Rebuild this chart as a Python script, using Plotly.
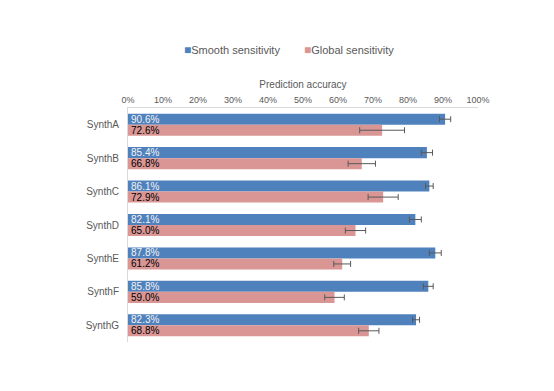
import plotly.graph_objects as go

datasets = ["SynthA", "SynthB", "SynthC", "SynthD", "SynthE", "SynthF", "SynthG"]
smooth_acc = [90.6, 85.4, 86.1, 82.1, 87.8, 85.8, 82.3]
smooth_err = [1.6, 1.6, 1.1, 1.7, 1.7, 1.4, 1.0]
global_acc = [72.6, 66.8, 72.9, 65.0, 61.2, 59.0, 68.8]
global_err = [6.4, 3.9, 4.3, 2.9, 2.4, 2.8, 2.9]
tick_vals = [0, 10, 20, 30, 40, 50, 60, 70, 80, 90, 100]

FONT = "Liberation Sans, Arial, sans-serif"
BLUE = "#4F81BD"
PINK = "#DA9694"

fig = go.Figure()

fig.add_trace(go.Bar(
    name="Smooth sensitivity",
    y=datasets,
    x=smooth_acc,
    orientation="h",
    marker=dict(color=BLUE, line=dict(width=0)),
    error_x=dict(type="data", array=smooth_err, color="#595959", thickness=1, width=3),
    text=[f"{v:.1f}%" for v in smooth_acc],
    textposition="inside",
    insidetextanchor="start",
    textfont=dict(family=FONT, size=10, color="#F2F2F2"),
))

fig.add_trace(go.Bar(
    name="Global sensitivity",
    y=datasets,
    x=global_acc,
    orientation="h",
    marker=dict(color=PINK, line=dict(width=0)),
    error_x=dict(type="data", array=global_err, color="#595959", thickness=1, width=3),
    text=[f"{v:.1f}%" for v in global_acc],
    textposition="inside",
    insidetextanchor="start",
    textfont=dict(family=FONT, size=10, color="#000000"),
))

# legend drawn as annotations so the marker sits right next to the label
legend_items = [("Smooth sensitivity", BLUE, 0.155), ("Global sensitivity", PINK, 0.497)]
for label, color, xpos in legend_items:
    fig.add_annotation(
        x=xpos, y=1.248, xref="paper", yref="paper",
        xanchor="left", yanchor="middle", showarrow=False,
        text=f"<span style='color:{color};font-size:12px'>■</span>{label}",
        font=dict(family=FONT, size=11, color="#595959"),
    )

fig.update_layout(
    barmode="group",
    bargap=0.34,
    bargroupgap=0,
    width=546,
    height=383,
    margin=dict(l=120, r=76, t=100, b=49),
    plot_bgcolor="white",
    paper_bgcolor="white",
    font=dict(family=FONT, size=10, color="#595959"),
    uniformtext=dict(minsize=8, mode="show"),
    showlegend=False,
)

fig.update_xaxes(
    side="top",
    range=[0, 100],
    tickvals=tick_vals,
    ticktext=[f"{v}%" for v in tick_vals],
    tickfont=dict(family=FONT, size=9, color="#595959"),
    showgrid=False,
    zeroline=False,
    showline=True,
    linecolor="#D9D9D9",
    linewidth=1,
    ticks="",
    title=dict(text="Prediction accuracy", font=dict(family=FONT, size=10, color="#595959"), standoff=4),
)

fig.update_yaxes(
    autorange="reversed",
    showgrid=False,
    showline=True,
    linecolor="#D9D9D9",
    linewidth=1,
    ticks="",
    ticklabelstandoff=6,
    tickfont=dict(family=FONT, size=10, color="#595959"),
)

fig.write_html("out.html")
